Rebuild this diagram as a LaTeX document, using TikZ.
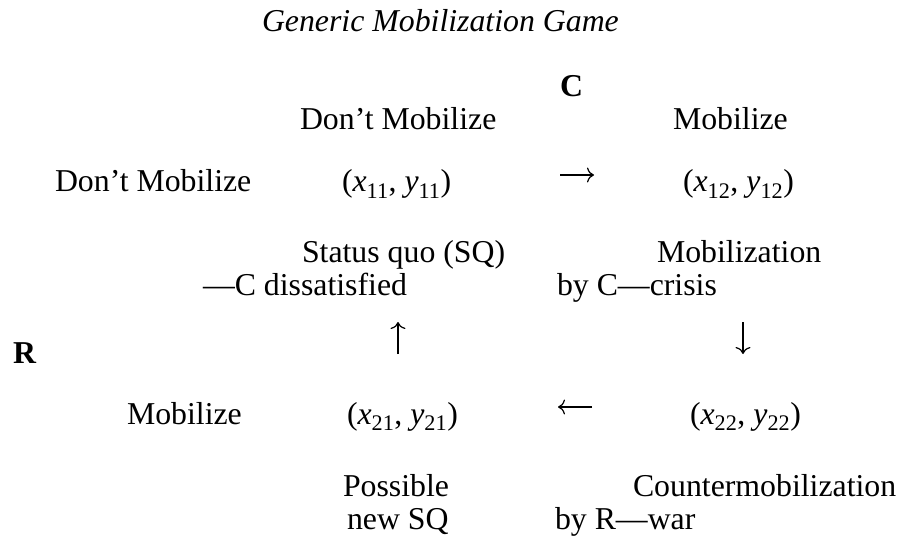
\documentclass[tikz,border=0pt]{standalone}
\usepackage{fontspec}
\setmainfont{Liberation Serif}
\usetikzlibrary{arrows.meta}
\newcommand{\pay}[2]{(\textit{x}\textsubscript{#1}, \textit{y}\textsubscript{#2})}
\begin{document}
\begin{tikzpicture}[x=1pt,y=-1pt,
  every node/.style={inner sep=0pt, outer sep=0pt},
  lbl/.style={anchor=base west, font=\fontsize{31.8}{36}\selectfont},
  glypharrow/.style={line width=1.2pt, -{Computer Modern Rightarrow[length=7pt,width=15pt,line width=1.2pt]}}]
\useasboundingbox (0,0) rectangle (901,537);
\node[lbl] (title) at (262,32) {\textit{Generic Mobilization Game}};
\node[lbl] (C) at (560,97) {\textbf{C}};
\node[lbl] (colA) at (300,130) {Don’t Mobilize};
\node[lbl] (colB) at (673,130) {Mobilize};
\node[lbl] (rowA) at (55,192) {Don’t Mobilize};
\node[lbl] (p11) at (342,192) {\pay{11}{11}};
\node[lbl] (p12) at (683,192) {\pay{12}{12}};
\node[lbl] (sq1) at (302,262) {Status quo (SQ)};
\node[lbl] (sq2) at (203,295) {—C dissatisfied};
\node[lbl] (mb1) at (657,262) {Mobilization};
\node[lbl] (mb2) at (557,295) {by C—crisis};
\node[lbl] (R) at (13,363) {\textbf{R}};
\node[lbl] (rowB) at (127,424) {Mobilize};
\node[lbl] (p21) at (347,424) {\pay{21}{21}};
\node[lbl] (p22) at (690,424) {\pay{22}{22}};
\node[lbl] (ps1) at (343,496) {Possible};
\node[lbl] (ps2) at (347,529) {new SQ};
\node[lbl] (cm1) at (633,496) {Countermobilization};
\node[lbl] (cm2) at (555,529) {by R—war};
% arrow glyphs
\coordinate (r0) at (560,175); \coordinate (r1) at (594,175);
\coordinate (u0) at (398,354); \coordinate (u1) at (398,322);
\coordinate (d0) at (743,322); \coordinate (d1) at (743,354);
\coordinate (l0) at (592,407); \coordinate (l1) at (558,407);
\draw[glypharrow] (r0) -- (r1);
\draw[glypharrow] (u0) -- (u1);
\draw[glypharrow] (d0) -- (d1);
\draw[glypharrow] (l0) -- (l1);
\end{tikzpicture}
\end{document}
